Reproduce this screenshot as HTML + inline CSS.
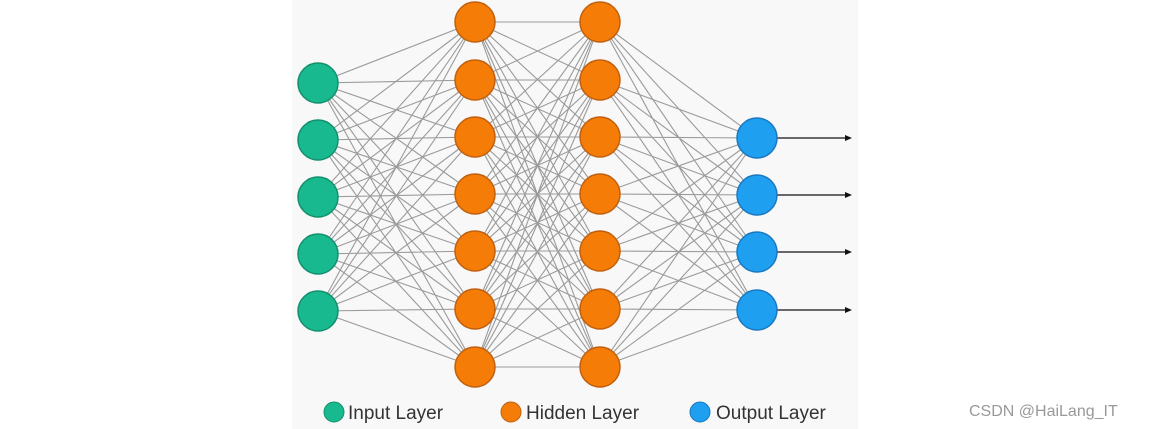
<!DOCTYPE html>
<html><head><meta charset="utf-8"><style>
html,body{margin:0;padding:0;background:#fff;width:1165px;height:429px;overflow:hidden}
</style></head><body>
<svg width="1165" height="429" viewBox="0 0 1165 429" xmlns="http://www.w3.org/2000/svg">
<rect x="292" y="0" width="566" height="429" fill="#f8f8f8"/>
<g stroke="#8a8a8a" stroke-width="1.1" fill="none" opacity="0.85">
<path d="M318 83L475 22M318 83L475 80M318 83L475 137M318 83L475 194M318 83L475 251M318 83L475 309M318 83L475 367
M318 140L475 22M318 140L475 80M318 140L475 137M318 140L475 194M318 140L475 251M318 140L475 309M318 140L475 367
M318 197L475 22M318 197L475 80M318 197L475 137M318 197L475 194M318 197L475 251M318 197L475 309M318 197L475 367
M318 254L475 22M318 254L475 80M318 254L475 137M318 254L475 194M318 254L475 251M318 254L475 309M318 254L475 367
M318 311L475 22M318 311L475 80M318 311L475 137M318 311L475 194M318 311L475 251M318 311L475 309M318 311L475 367"/>
<path d="M475 22L600 22M475 22L600 80M475 22L600 137M475 22L600 194M475 22L600 251M475 22L600 309M475 22L600 367
M475 80L600 22M475 80L600 80M475 80L600 137M475 80L600 194M475 80L600 251M475 80L600 309M475 80L600 367
M475 137L600 22M475 137L600 80M475 137L600 137M475 137L600 194M475 137L600 251M475 137L600 309M475 137L600 367
M475 194L600 22M475 194L600 80M475 194L600 137M475 194L600 194M475 194L600 251M475 194L600 309M475 194L600 367
M475 251L600 22M475 251L600 80M475 251L600 137M475 251L600 194M475 251L600 251M475 251L600 309M475 251L600 367
M475 309L600 22M475 309L600 80M475 309L600 137M475 309L600 194M475 309L600 251M475 309L600 309M475 309L600 367
M475 367L600 22M475 367L600 80M475 367L600 137M475 367L600 194M475 367L600 251M475 367L600 309M475 367L600 367"/>
<path d="M600 22L757 138M600 22L757 195M600 22L757 252M600 22L757 310
M600 80L757 138M600 80L757 195M600 80L757 252M600 80L757 310
M600 137L757 138M600 137L757 195M600 137L757 252M600 137L757 310
M600 194L757 138M600 194L757 195M600 194L757 252M600 194L757 310
M600 251L757 138M600 251L757 195M600 251L757 252M600 251L757 310
M600 309L757 138M600 309L757 195M600 309L757 252M600 309L757 310
M600 367L757 138M600 367L757 195M600 367L757 252M600 367L757 310"/>
</g>
<g stroke="#111" stroke-width="1.2">
<line x1="777" y1="138" x2="846" y2="138"/><line x1="777" y1="195" x2="846" y2="195"/>
<line x1="777" y1="252" x2="846" y2="252"/><line x1="777" y1="310" x2="846" y2="310"/>
</g>
<g fill="#111">
<polygon points="852,138 845,135 845,141"/><polygon points="852,195 845,192 845,198"/>
<polygon points="852,252 845,249 845,255"/><polygon points="852,310 845,307 845,313"/>
</g>
<g fill="#19b98f" stroke="#148f6e" stroke-width="1.5">
<circle cx="318" cy="83" r="20"/><circle cx="318" cy="140" r="20"/><circle cx="318" cy="197" r="20"/><circle cx="318" cy="254" r="20"/><circle cx="318" cy="311" r="20"/>
</g>
<g fill="#f57c06" stroke="#c06010" stroke-width="1.5">
<circle cx="475" cy="22" r="20"/><circle cx="475" cy="80" r="20"/><circle cx="475" cy="137" r="20"/><circle cx="475" cy="194" r="20"/><circle cx="475" cy="251" r="20"/><circle cx="475" cy="309" r="20"/><circle cx="475" cy="367" r="20"/>
<circle cx="600" cy="22" r="20"/><circle cx="600" cy="80" r="20"/><circle cx="600" cy="137" r="20"/><circle cx="600" cy="194" r="20"/><circle cx="600" cy="251" r="20"/><circle cx="600" cy="309" r="20"/><circle cx="600" cy="367" r="20"/>
</g>
<g fill="#1f9ff0" stroke="#1a78c0" stroke-width="1.5">
<circle cx="757" cy="138" r="20"/><circle cx="757" cy="195" r="20"/><circle cx="757" cy="252" r="20"/><circle cx="757" cy="310" r="20"/>
</g>
<circle cx="334" cy="412" r="10" fill="#19b98f" stroke="#148f6e"/>
<circle cx="511" cy="412" r="10" fill="#f57c06" stroke="#c06010"/>
<circle cx="700" cy="412" r="10" fill="#1f9ff0" stroke="#1a78c0"/>
<g font-family="Liberation Sans, sans-serif" font-size="19" fill="#333">
<text x="348" y="419">Input Layer</text>
<text x="526" y="419">Hidden Layer</text>
<text x="716" y="419">Output Layer</text>
</g>
<text x="969" y="416" font-family="Liberation Sans, sans-serif" font-size="16" fill="#999">CSDN @HaiLang_IT</text>
</svg>
</body></html>
